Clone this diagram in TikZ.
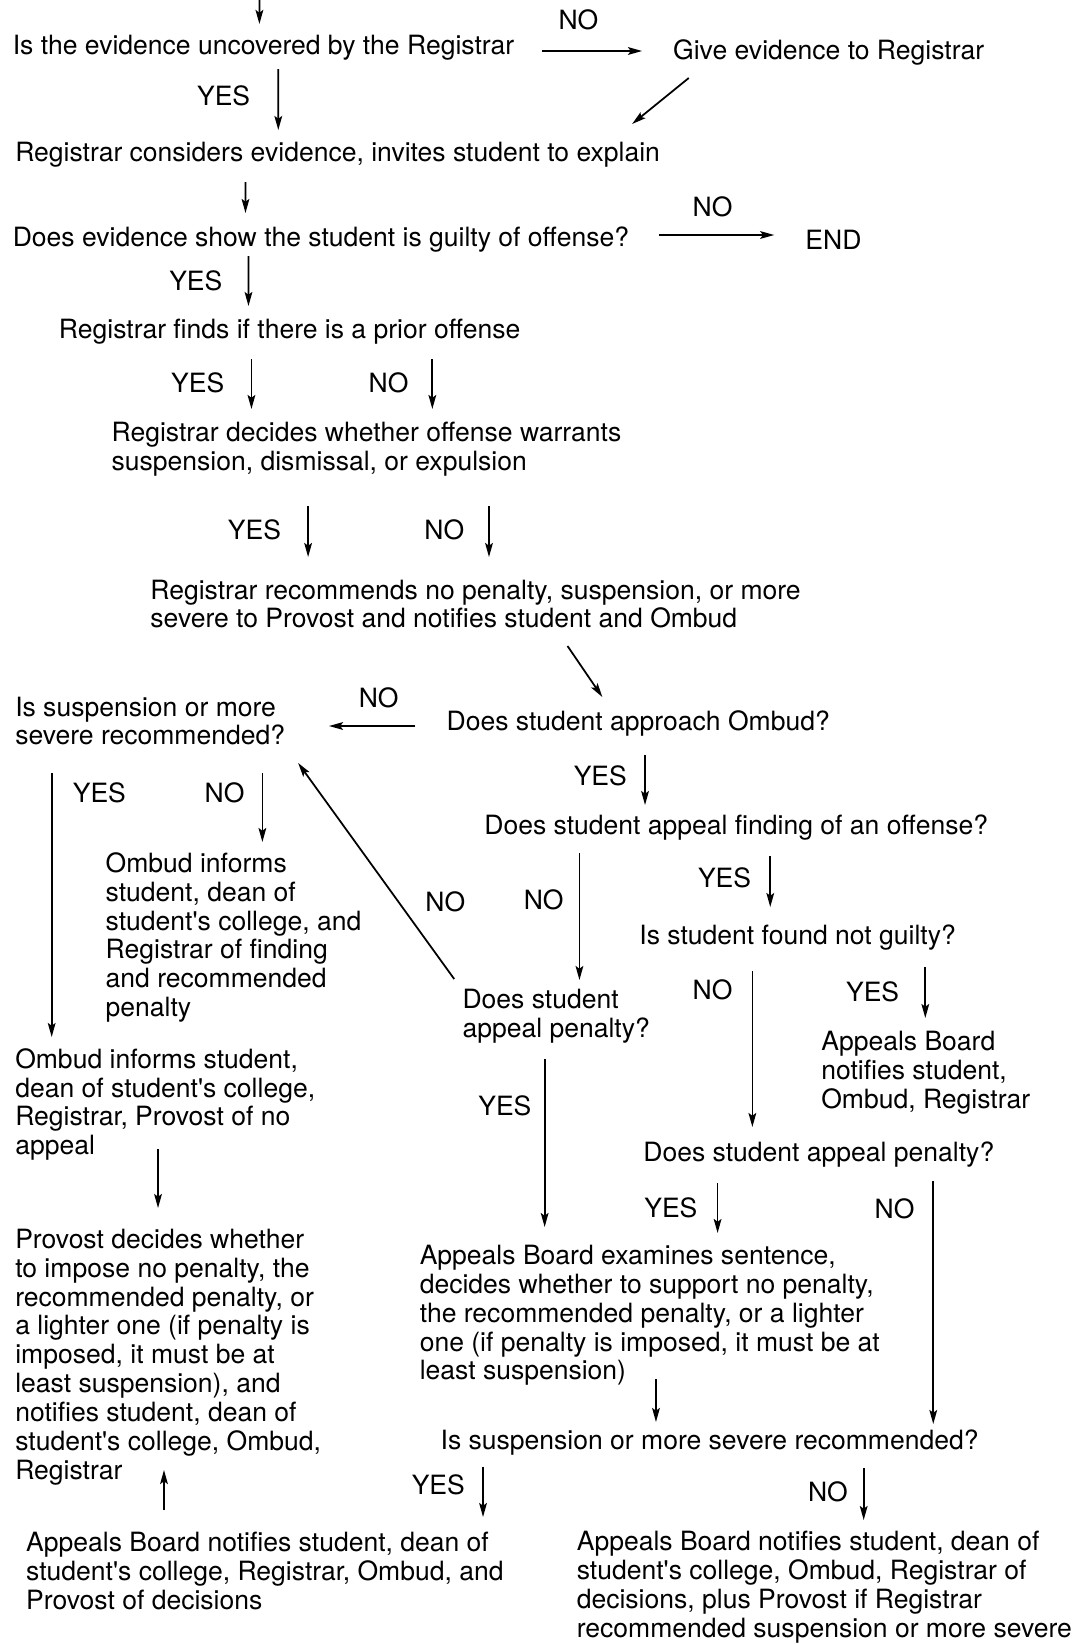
\documentclass[tikz,border=0pt]{standalone}
\usepackage{fontspec}
\setmainfont{TeX Gyre Heros}
\usepackage{tikz}
\usetikzlibrary{arrows.meta}
\newcommand{\aps}{\textquotesingle}
\tikzset{
  stage/.style = {anchor=west, align=left, inner sep=0pt,
    font=\fontsize{15.1}{16.4}\selectfont},% one step of the procedure
  ans/.style = {inner sep=0pt, font=\fontsize{15.1}{16.4}\selectfont},% YES / NO
  flow/.style = {line width=1pt,
    -{Stealth[length=8pt,width=4.4pt,inset=1.6pt]}}% connector
}

\begin{document}
\begin{tikzpicture}[x=0.01988cm, y=-0.02cm]
  \useasboundingbox (0,0) rectangle (1086.5,1644);
  % steps
  \node [stage] (q1) at (12.5,48) {Is the evidence uncovered by the Registrar};
  \node [stage] (give) at (677,52) {Give evidence to Registrar};
  \node [stage] (cons) at (15,155) {Registrar considers evidence, invites student to explain};
  \node [stage] (guilty) at (12.5,240) {Does evidence show the student is guilty of offense?};
  \node [stage] (endn) at (810,240) {END};
  \node [stage] (prior) at (59,332) {Registrar finds if there is a prior offense};
  \node [stage] (decide) at (112,449) {Registrar decides whether offense warrants\\suspension, dismissal, or expulsion};
  \node [stage] (recom) at (151,604) {Registrar recommends no penalty, suspension, or more\\severe to Provost and notifies student and Ombud};
  \node [stage] (susp1) at (15,721) {Is suspension or more\\severe recommended?};
  \node [stage] (appr) at (449,723) {Does student approach Ombud?};
  \node [stage] (find) at (487,828) {Does student appeal finding of an offense?};
  \node [stage] (inform) at (106,937.5) {Ombud informs\\student, dean of\\student\aps s college, and\\Registrar of finding\\and recommended\\penalty};
  \node [stage] (notg) at (643,938) {Is student found not guilty?};
  \node [stage] (appen1) at (465,1016.5) {Does student\\appeal penalty?};
  \node [stage] (board1) at (826,1073) {Appeals Board\\notifies student,\\Ombud, Registrar};
  \node [stage] (noapp) at (15,1104.5) {Ombud informs student,\\dean of student\aps s college,\\Registrar, Provost of no\\appeal};
  \node [stage] (appen2) at (647,1155) {Does student appeal penalty?};
  \node [stage] (provost) at (15,1357) {Provost decides whether\\to impose no penalty, the\\recommended penalty, or\\a lighter one (if penalty is\\imposed, it must be at\\least suspension), and\\notifies student, dean of\\student\aps s college, Ombud,\\Registrar};
  \node [stage] (exam) at (422,1315.5) {Appeals Board examines sentence,\\decides whether to support no penalty,\\the recommended penalty, or a lighter\\one (if penalty is imposed, it must be at\\least suspension)};
  \node [stage] (susp2) at (443,1443) {Is suspension or more severe recommended?};
  \node [stage] (fin1) at (26,1571) {Appeals Board notifies student, dean of\\student\aps s college, Registrar, Ombud, and\\Provost of decisions};
  \node [stage] (fin2) at (580,1587) {Appeals Board notifies student, dean of\\student\aps s college, Ombud, Registrar of\\decisions, plus Provost if Registrar\\recommended suspension or more severe};
  % answers
  \foreach \n/\x/\y/\t in {1/582/20/NO, 2/225/96/YES, 3/717/207/NO, 4/197/281/YES,
      5/199/383/YES, 6/391/383/NO, 7/256/530/YES, 8/447/530/NO, 9/381/698/NO,
      10/604/776/YES, 11/100/793/YES, 12/226/793/NO, 13/448/902/NO, 14/547/900/NO,
      15/729/878/YES, 16/717/990/NO, 17/878/992/YES, 18/508/1106/YES,
      19/675/1208/YES, 20/900/1209/NO, 21/441/1485/YES, 22/833/1492/NO}
    \node [ans] (a\n) at (\x,\y) {\t};
  % connectors
  \coordinate (entry) at (261,0);
  \draw [flow] (entry) -- ([shift={(248.5,-24)}]q1.west);
  \draw [flow] ([shift={(532.5,3)}]q1.west) -- ([shift={(-31,-1)}]give.west);
  \draw [flow] ([shift={(267.5,21)}]q1.west) -- ([shift={(265,-25)}]cons.west);
  \draw [flow] ([shift={(16,26)}]give.west) -- ([shift={(621,-31)}]cons.west);
  \draw [flow] ([shift={(232,27)}]cons.west) -- ([shift={(234.5,-27)}]guilty.west);
  \draw [flow] ([shift={(650.5,-5)}]guilty.west) -- ([shift={(-31,-5)}]endn.west);
  \draw [flow] ([shift={(237.5,16)}]guilty.west) -- ([shift={(191,-26)}]prior.west);
  \draw [flow] ([shift={(194,27)}]prior.west) -- ([shift={(141,-40)}]decide.west);
  \draw [flow] ([shift={(376,27)}]prior.west) -- ([shift={(323,-40)}]decide.west);
  \draw [flow] ([shift={(198,57)}]decide.west) -- ([shift={(159,-47)}]recom.west);
  \draw [flow] ([shift={(380,57)}]decide.west) -- ([shift={(341,-47)}]recom.west);
  \draw [flow] ([shift={(420,42)}]recom.west) -- ([shift={(157,-26)}]appr.west);
  \draw [flow] ([shift={(-31,3)}]appr.west) -- ([shift={(316,5)}]susp1.west);
  \draw [flow] ([shift={(200,32)}]appr.west) -- ([shift={(162,-23)}]find.west);
  \draw [flow] ([shift={(37,52)}]susp1.west) -- ([shift={(37,-67.5)}]noapp.west);
  \draw [flow] ([shift={(249,52)}]susp1.west) -- ([shift={(158,-95.5)}]inform.west);
  \draw [flow] ([shift={(-8,-37.5)}]appen1.west) -- ([shift={(285,42)}]susp1.west);
  \draw [flow] ([shift={(96,25)}]find.west) -- ([shift={(118,-36.5)}]appen1.west);
  \draw [flow] ([shift={(288,28)}]find.west) -- ([shift={(132,-31)}]notg.west);
  \draw [flow] ([shift={(114,33)}]notg.west) -- ([shift={(110,-28)}]appen2.west);
  \draw [flow] ([shift={(288,29)}]notg.west) -- ([shift={(105,-55)}]board1.west);
  \draw [flow] ([shift={(83,42.5)}]appen1.west) -- ([shift={(126,-88.5)}]exam.west);
  \draw [flow] ([shift={(144,44.5)}]noapp.west) -- ([shift={(144,-149)}]provost.west);
  \draw [flow] ([shift={(75,28)}]appen2.west) -- ([shift={(300,-82.5)}]exam.west);
  \draw [flow] ([shift={(292,26)}]appen2.west) -- ([shift={(496,-19)}]susp2.west);
  \draw [flow] ([shift={(238,63.5)}]exam.west) -- ([shift={(217,-21)}]susp2.west);
  \draw [flow] ([shift={(139,-61)}]fin1.west) -- ([shift={(150,113)}]provost.west);
  \draw [flow] ([shift={(43,24)}]susp2.west) -- ([shift={(460,-54)}]fin1.west);
  \draw [flow] ([shift={(426,25)}]susp2.west) -- ([shift={(289,-67)}]fin2.west);
\end{tikzpicture}
\end{document}
